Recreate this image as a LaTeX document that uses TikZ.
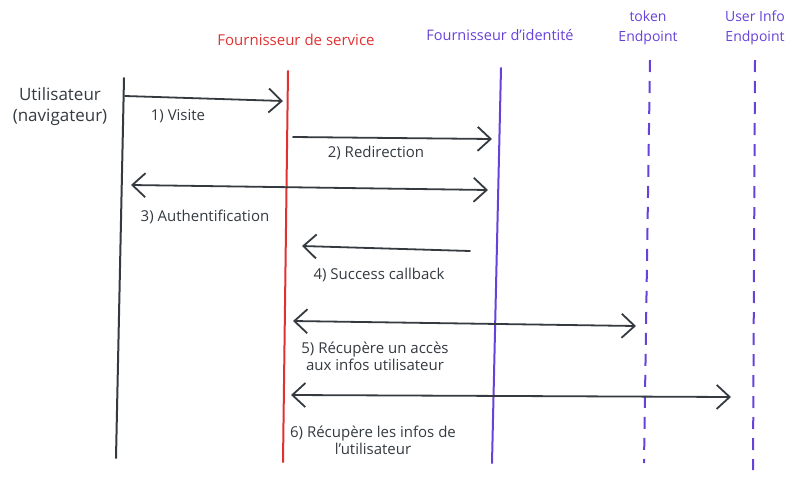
\documentclass[tikz,border=0pt]{standalone}
\usepackage{fontspec}
\setmainfont{Open Sans}
\usetikzlibrary{arrows.meta}
\definecolor{ink}{HTML}{343A40}
\definecolor{sred}{HTML}{E03131}
\definecolor{violet}{HTML}{6741D9}
\tikzset{
  lbl/.style={font=\fontsize{15}{17}\selectfont, text=ink, inner sep=0pt, align=center},
  hdr/.style={font=\fontsize{15}{20}\selectfont, inner sep=0pt, align=center},
  life/.style={line width=2pt, line cap=round},
  dlife/.style={line width=2pt, violet, dash pattern=on 12pt off 9pt},
  barb/.style={},
  msg/.style={line width=1.8pt, ink, line cap=round, -{Straight Barb[length=13pt,width=24pt,line width=1.8pt]}},
  bmsg/.style={line width=1.8pt, ink, line cap=round, {Straight Barb[length=13pt,width=24pt,line width=1.8pt]}-{Straight Barb[length=13pt,width=24pt,line width=1.8pt]}}
}
\begin{document}
\begin{tikzpicture}[x=1pt,y=-1pt]
\useasboundingbox (0,0) rectangle (800,482);
% headers
\node[hdr, text=ink, font=\fontsize{17}{21}\selectfont] (user) at (60,107) {Utilisateur\\(navigateur)};
\node[hdr, text=sred] (sp) at (296,40) {Fournisseur de service};
\node[hdr, text=violet, font=\fontsize{14.5}{20}\selectfont] (idp) at (500,35) {Fournisseur d'identité};
\node[hdr, text=violet, font=\fontsize{14}{20}\selectfont] (tok) at (648,28) {token\\Endpoint};
\node[hdr, text=violet, font=\fontsize{14}{20}\selectfont] (ui) at (755,28) {User Info\\Endpoint};
% lifelines
\coordinate (uT) at (124,78); \coordinate (uB) at (116,458);
\coordinate (sT) at (288,71); \coordinate (sB) at (283,462);
\coordinate (iT) at (501,68); \coordinate (iB) at (492,463);
\coordinate (tT) at (650,60); \coordinate (tB) at (644,463);
\coordinate (eT) at (755,60); \coordinate (eB) at (753,470);
\draw[life, ink] (uT) -- (uB);
\draw[life, sred] (sT) -- (sB);
\draw[life, violet] (iT) -- (iB);
\draw[dlife] (tT) -- (tB);
\draw[dlife] (eT) -- (eB);
% messages
\coordinate (a1) at (125,96); \coordinate (b1) at (283,101);
\draw[msg] (a1) -- (b1);
\node[lbl] (l1) at (178,116) {1) Visite};
\coordinate (a2) at (293,137); \coordinate (b2) at (492,139);
\draw[msg] (a2) -- (b2);
\node[lbl] (l2) at (376,153) {2) Redirection};
\coordinate (a3) at (131,185); \coordinate (b3) at (488,190);
\draw[bmsg] (a3) -- (b3);
\node[lbl] (l3) at (205,217) {3) Authentification};
\coordinate (a4) at (470,251); \coordinate (b4) at (302,246);
\draw[msg] (a4) -- (b4);
\node[lbl] (l4) at (379,275) {4) Success callback};
\coordinate (a5) at (293,321); \coordinate (b5) at (636,326);
\draw[bmsg] (a5) -- (b5);
\node[lbl] (l5) at (375,356) {5) Récupère un accès\\aux infos utilisateur};
\coordinate (a6) at (291,395); \coordinate (b6) at (731,397);
\draw[bmsg] (a6) -- (b6);
\node[lbl] (l6) at (373,440) {6) Récupère les infos de\\l'utilisateur};
\end{tikzpicture}
\end{document}
